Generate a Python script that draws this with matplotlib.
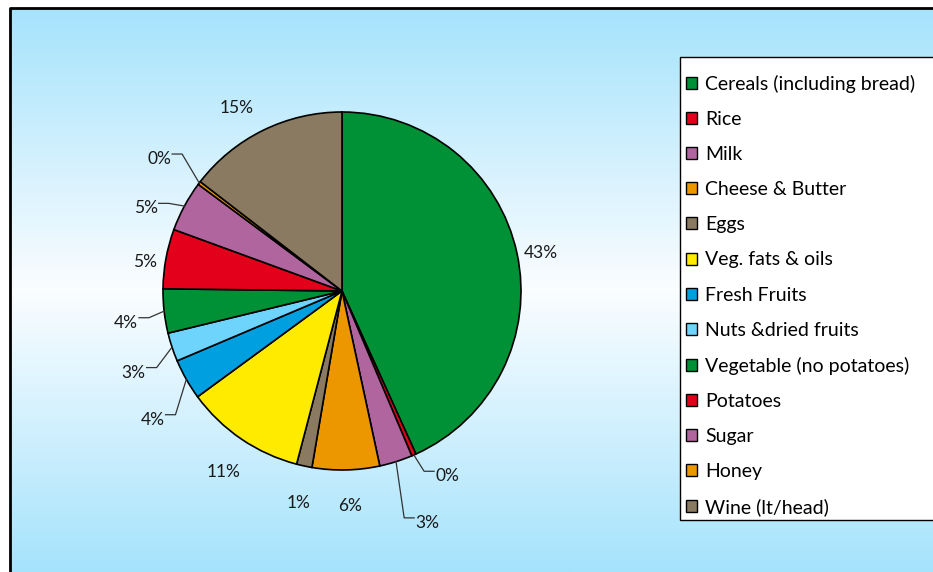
import numpy as np
import matplotlib.pyplot as plt
from matplotlib.colors import LinearSegmentedColormap
from matplotlib.patches import Patch, Rectangle

# %%
foods = ['Cereals (including bread)', 'Rice', 'Milk', 'Cheese & Butter', 'Eggs',
         'Veg. fats & oils', 'Fresh Fruits', 'Nuts &dried fruits',
         'Vegetable (no potatoes)', 'Potatoes', 'Sugar', 'Honey', 'Wine (lt/head)']
shares = [43.4, 0.4, 3.0, 6.1, 1.4, 10.9, 3.7, 2.6, 4.0, 5.4, 4.6, 0.3, 14.6]
colors = ['#009036', '#e2001a', '#b0659e', '#ec9700', '#8a7a61', '#ffeb00',
          '#009fe0', '#6fd4fb', '#009036', '#e2001a', '#b0659e', '#ec9700', '#8a7a61']

# label placement: (radius factor, angle shift in deg, leader line?)
label_pos = [(1.13, -1.4, False), (1.19, 5.9, True), (1.38, 2.6, True), (1.20, 0.9, False),
             (1.21, 0.7, False), (1.21, 1.0, False), (1.28, 4.6, True), (1.25, 3.1, True),
             (1.22, 1.9, True), (1.11, 2.0, False), (1.19, 5.5, True), (1.26, 1.3, True),
             (1.18, 3.8, False)]

# %%
W, H = 933, 572
fig = plt.figure(figsize=(W / 100, H / 100), dpi=100)
ax = fig.add_axes([0, 0, 1, 1])

# background gradient: blue - white - blue
cmap = LinearSegmentedColormap.from_list('bg', ['#a5e3fc', '#fbfdff', '#a5e3fc'])
grad = np.linspace(0, 1, 256).reshape(-1, 1)
ax.imshow(grad, cmap=cmap, extent=[10, W, 0, H - 8], aspect='auto', zorder=0)
ax.plot([10, 10, W], [0, H - 8, H - 8], color='black', lw=2, zorder=1)

cx, cy, R = 342, 281, 179
wedges, _ = ax.pie(shares, colors=colors, startangle=90, counterclock=False,
                   center=(cx, cy), radius=R, frame=True,
                   wedgeprops=dict(edgecolor='black', linewidth=1.2))
ax.set_xlim(0, W)
ax.set_ylim(0, H)
ax.axis('off')

font = 'Lato'
total = sum(shares)
for w, s, (rf, shift, leader) in zip(wedges, shares, label_pos):
    mid = np.deg2rad((w.theta1 + w.theta2) / 2)
    ex, ey = cx + R * np.cos(mid), cy + R * np.sin(mid)
    ang = mid + np.deg2rad(shift)
    tx, ty = cx + rf * R * np.cos(ang), cy + rf * R * np.sin(ang)
    txt = f'{round(s / total * 100):d}%'
    ax.text(tx, ty, txt, ha='center', va='center', fontsize=12.5,
            family=font, color='#1a1a1a', zorder=5)
    if leader:
        side = 1 if tx > cx else -1
        hx = tx - side * 13
        kx = hx - side * 10
        ax.plot([ex, kx, hx], [ey, ty + 5, ty + 5], color='#333333', lw=0.9, zorder=4)

# legend (box runs off the right edge)
ax.add_patch(Rectangle((680, H - 520), 300, 463, facecolor='white', edgecolor='black',
                       lw=1, zorder=6, clip_on=False))
handles = [Patch(facecolor=c, edgecolor='black', linewidth=1) for c in colors]
leg = ax.legend(handles, foods, loc='upper left', bbox_to_anchor=(684 / W, 1 - 73 / H),
                frameon=False, prop={'family': font, 'size': 14},
                handlelength=0.57, handleheight=0.57, handletextpad=0.42,
                labelspacing=0.93, borderpad=0.1, borderaxespad=0)
leg.set_zorder(7)

fig.savefig('out.png', dpi=100)
